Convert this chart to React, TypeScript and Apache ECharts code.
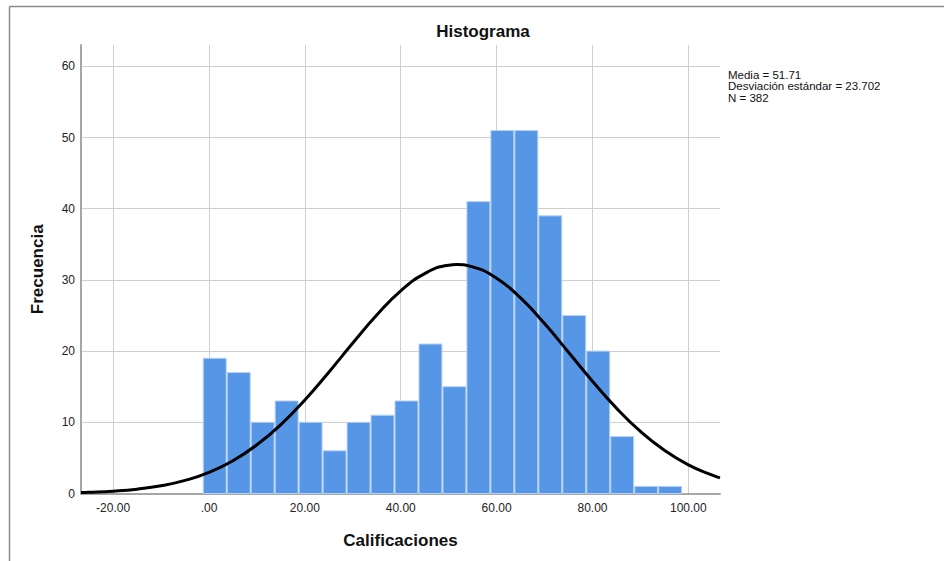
import React, { useEffect, useRef } from "react";
import * as echarts from "echarts";

// Histogram bins: start of each bin (bin width 5) and frequency
const binStarts = [-1.3, 3.7, 8.7, 13.7, 18.7, 23.7, 28.7, 33.7, 38.7, 43.7, 48.7, 53.7, 58.7, 63.7, 68.7, 73.7, 78.7, 83.7, 88.7, 93.7];
const binWidth = 5;
const frequencies = [19, 17, 10, 13, 10, 6, 10, 11, 13, 21, 15, 41, 51, 51, 39, 25, 20, 8, 1, 1];

// Normal curve
const curveX = [-26.7, -25, -20, -15, -10, -5, 0, 5, 10, 15, 20, 25, 30, 35, 40, 45, 50, 51.7, 55, 60, 65, 70, 75, 80, 85, 90, 95, 100, 105, 106.6];
const curveY = [0.14, 0.17, 0.33, 0.61, 1.08, 1.84, 2.97, 4.61, 6.84, 9.68, 13.14, 17.04, 21.14, 25.07, 28.46, 30.89, 32.07, 32.15, 31.84, 30.24, 27.47, 23.87, 19.84, 15.77, 11.99, 8.72, 6.07, 4.03, 2.57, 2.2];

const xTicks = [-20, 0, 20, 40, 60, 80, 100];
const yTicks = [0, 10, 20, 30, 40, 50, 60];

const statsLines = ["Media = 51.71", "Desviación estándar = 23.702", "N = 382"];

const FONT = "'Liberation Sans', Arial, sans-serif";

export default function App() {
  const ref = useRef<HTMLDivElement>(null);
  useEffect(() => {
    if (!ref.current) return;
    const chart = echarts.init(ref.current, null, { renderer: "svg" });
    const barData = binStarts.map((s, i) => [s, s + binWidth, frequencies[i]]);
    const curveData = curveX.map((x, i) => [x, curveY[i]]);
    const statsTexts = statsLines.map((t, i) => ({
      type: "text",
      x: 728,
      y: 74.5 + i * 11.5,
      style: { text: t, font: `11.5px ${FONT}`, lineHeight: 11, fill: "#111", align: "left", verticalAlign: "middle" },
    }));
    chart.setOption({
      animation: false,
      backgroundColor: "#ffffff",
      textStyle: { fontFamily: FONT },
      grid: { left: 81, right: 224, top: 45, bottom: 67.5, containLabel: false },
      xAxis: {
        type: "value",
        min: -26.7,
        max: 106.6,
        name: "Calificaciones",
        nameLocation: "middle",
        nameGap: 38,
        nameTextStyle: { fontFamily: FONT, fontSize: 17, fontWeight: "bold", color: "#111", verticalAlign: "top" },
        axisLine: { show: true, onZero: false, lineStyle: { color: "#a6a6a6", width: 2 } },
        axisTick: { show: false, customValues: xTicks },
        axisLabel: {
          customValues: xTicks,
          margin: 8,
          fontFamily: FONT,
          fontSize: 12,
          color: "#222",
          formatter: (v: number) => (v === 0 ? ".00" : v.toFixed(2)),
        },
        splitLine: { show: true, customValues: xTicks, lineStyle: { color: "#cfcfcf", width: 1 } },
      },
      yAxis: {
        type: "value",
        min: 0,
        max: 63,
        name: "Frecuencia",
        nameLocation: "middle",
        nameGap: 35,
        nameTextStyle: { fontFamily: FONT, fontSize: 17, fontWeight: "bold", color: "#111" },
        axisLine: { show: true, onZero: false, lineStyle: { color: "#a6a6a6", width: 2 } },
        axisTick: { show: false, customValues: yTicks },
        axisLabel: { customValues: yTicks, margin: 6, fontFamily: FONT, fontSize: 12, color: "#222" },
        splitLine: { show: true, customValues: yTicks, lineStyle: { color: "#cfcfcf", width: 1 } },
      },
      series: [
        {
          type: "custom",
          data: barData,
          encode: { x: [0, 1], y: 2 },
          z: 2,
          renderItem: (params: any, api: any) => {
            const p0 = api.coord([api.value(0), api.value(2)]);
            const p1 = api.coord([api.value(1), 0]);
            return {
              type: "rect",
              shape: { x: p0[0] + 0.5, y: p0[1], width: p1[0] - p0[0] - 1, height: p1[1] - p0[1] },
              style: { fill: "#5596e6", stroke: "#b9d3f3", lineWidth: 1 },
            };
          },
        },
        {
          type: "line",
          data: curveData,
          smooth: true,
          symbol: "none",
          z: 5,
          lineStyle: { color: "#000", width: 3 },
        },
      ],
      graphic: [
        { type: "line", shape: { x1: 9.5, y1: 6.5, x2: 944, y2: 6.5 }, style: { stroke: "#8a8a8a", lineWidth: 1.5 } },
        { type: "line", shape: { x1: 9.5, y1: 6.5, x2: 9.5, y2: 561 }, style: { stroke: "#8a8a8a", lineWidth: 1.5 } },
        {
          type: "text",
          x: 483,
          y: 31,
          style: { text: "Histograma", font: `bold 17px ${FONT}`, fill: "#111", align: "center", verticalAlign: "middle" },
        },
        ...statsTexts,
      ],
    });
    return () => chart.dispose();
  }, []);
  return <div ref={ref} style={{ width: 944, height: 561, position: "absolute", left: 0, top: 0 }} />;
}
